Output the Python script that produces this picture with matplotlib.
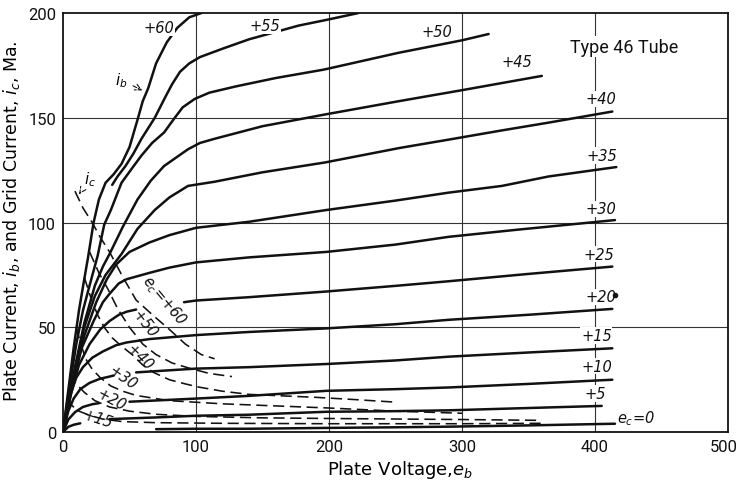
import matplotlib.pyplot as plt
from matplotlib.transforms import ScaledTranslation

# ---- plate current curves i_b (volts, mA) ----
ib60_v = [0, 4, 8, 12, 16, 19, 23, 27, 32, 38, 44, 50, 56, 60, 64, 70, 78, 86, 95, 104]
ib60_i = [0, 20, 40, 58, 73, 84, 100, 111, 119, 123, 128, 136, 149, 158, 164, 176, 186, 193, 198, 200]

ib55_v = [37, 41, 47, 53, 59, 64, 69, 73, 77, 82, 88, 95, 103, 120, 140, 160, 177, 200, 222]
ib55_i = [118, 122, 127, 133, 140, 145, 150, 155, 160, 166, 172, 176, 179, 183, 187.5, 191, 194, 197, 200]

ib50_v = [0, 5, 10, 15, 20, 26, 31, 36, 44, 52, 59, 67, 76, 84, 90, 99, 110, 130, 160, 196, 252, 300, 320]
ib50_i = [0, 22, 42, 58, 70, 84, 99, 106, 119, 126, 132, 138, 143, 150, 155, 159, 162, 165, 169, 173, 181, 187, 190]

ib45_v = [0, 8, 16, 24, 30, 35, 45, 56, 66, 76, 94, 103, 114, 150, 197, 253, 300, 360]
ib45_i = [0, 28, 52, 70, 79, 85, 98, 111, 120, 127, 135, 138, 140, 146, 151.6, 158, 163.2, 170]

ib40_v = [0, 8, 16, 24, 32, 44, 56, 69, 80, 94, 114, 150, 197, 253, 290, 330, 365, 413]
ib40_i = [0, 27, 50, 65, 75, 85, 97, 106, 112, 117.5, 119.5, 124, 128.7, 135.6, 139.6, 144, 147.7, 153]

ib35_v = [0, 8, 16, 25, 33, 40, 50, 65, 80, 100, 140, 198, 250, 290, 330, 365, 416]
ib35_i = [0, 26, 46, 62, 73, 80, 86, 90.5, 94, 97.5, 100.4, 106, 110.5, 114.3, 117.5, 122, 126.5]

ib30_v = [0, 7, 14, 23, 30, 35, 42, 48, 65, 80, 100, 140, 198, 250, 290, 340, 415]
ib30_i = [0, 22, 40, 53, 62, 66, 71, 73, 76, 78.5, 81, 83.4, 86, 89.5, 93.2, 96.5, 101.2]

ib25a_v = [0, 6, 12, 20, 28, 35, 42, 48, 55]
ib25a_i = [0, 18, 32, 42, 49, 53, 56, 57.5, 58.5]
ib25b_v = [91, 100, 140, 198, 250, 290, 350, 413]
ib25b_i = [62, 62.8, 64.4, 67.1, 69.8, 72, 75.5, 79]

ib20_v = [0, 5, 10, 15, 22, 30, 40, 48, 65, 100, 140, 198, 250, 290, 350, 413]
ib20_i = [0, 17, 26, 31, 35.5, 38.5, 41.5, 42.8, 44.4, 46.3, 47.8, 49.5, 51.5, 53.6, 56, 58.8]

ib15a_v = [0, 4, 8, 13, 20, 28, 35, 38]
ib15a_i = [0, 10, 16, 20.5, 23.5, 25.5, 26.5, 27]
ib15b_v = [55, 80, 100, 140, 198, 250, 290, 350, 413]
ib15b_i = [28.5, 29.5, 30.3, 31, 32.5, 34.2, 36, 38, 40]

ib10a_v = [0, 4, 9, 15, 22, 27]
ib10a_i = [0, 6, 9.5, 12, 13.3, 13.8]
ib10b_v = [50, 100, 140, 198, 250, 290, 350, 413]
ib10b_i = [14.5, 16, 17.3, 19.7, 20.5, 21.3, 23, 25]

ib5a_v = [0, 4, 8, 13]
ib5a_i = [0, 2.5, 3.5, 4.2]
ib5b_v = [35, 70, 100, 140, 198, 250, 290, 350, 405]
ib5b_i = [6.2, 7, 7.8, 8.3, 9.7, 10, 10.4, 11.5, 12.5]

ib0_v = [70, 100, 140, 198, 250, 290, 350, 415]
ib0_i = [1.4, 1.6, 1.6, 2, 2.3, 2.6, 3.2, 4]

# ---- grid current curves i_c (dashed) ----
ic60_v = [9, 15, 22, 28, 35, 45, 55, 69, 80, 92, 104, 114]
ic60_i = [115, 107, 100, 93, 86, 74, 63, 55, 49, 42, 37, 35]

ic50_v = [20, 27, 34, 41, 50, 60, 70, 82, 95, 110, 127]
ic50_i = [86, 76, 68, 59, 50, 42, 37, 33, 30.5, 28, 26.5]

ic40_v = [16, 21, 26, 31, 37, 44, 52, 60, 68, 80, 92, 102, 120, 140, 165, 190, 220, 250]
ic40_i = [74, 64, 56, 50, 45, 41, 37, 32, 28.5, 25, 23, 21.5, 19.5, 18, 17.3, 16.6, 15.5, 14.3]

ic30_v = [10, 13, 17, 22, 28, 36, 45, 55, 80, 120, 160, 200, 250, 300]
ic30_i = [50, 43, 35, 30, 26, 22, 19.5, 17.5, 15, 13.5, 12.5, 11.5, 10, 9]

ic20_v = [5, 10, 16, 24, 35, 50, 70, 100, 150, 200, 300, 360]
ic20_i = [28, 23, 19, 15, 12, 10, 8.5, 7.5, 6.8, 6.5, 6, 5.6]

ic15_v = [3, 7, 12, 20, 30, 45, 70, 120, 200, 300, 360]
ic15_i = [16, 12.5, 10, 8, 6.2, 5, 4.5, 4.2, 4, 4, 4.2]

# curve labels (text, x, y)
ib_labels = [("+60", 72, 193), ("+55", 152, 194), ("+50", 281, 191), ("+45", 341, 177),
             ("+40", 404, 159), ("+35", 405, 132), ("+30", 404, 106.5), ("+25", 403, 85),
             ("+20", 404, 64.5), ("+15", 401, 46), ("+10", 401, 31.5), ("+5", 400, 18.5)]
ic_labels = [(r"$e_c$=+60", 76, 63, -50), ("+50", 61, 52, -52), ("+40", 57.5, 36, -45),
             ("+30", 45, 26, -35), ("+20", 36.5, 15.5, -28), ("+15", 26, 6.5, -18)]

xticks = [0, 100, 200, 300, 400, 500]
yticks = [0, 50, 100, 150, 200]

plt.rcParams['font.family'] = ['DejaVu Sans']
fig = plt.figure(figsize=(7.41, 4.85), dpi=100)
ax = fig.add_axes([0.085, 0.107, 0.8975, 0.864])

ink = '#111111'
solid = dict(color=ink, lw=1.8, solid_capstyle='round', zorder=3)
dash = dict(color=ink, lw=1.15, dashes=(7, 3.5), zorder=3)

for v, i in [(ib60_v, ib60_i), (ib55_v, ib55_i), (ib50_v, ib50_i), (ib45_v, ib45_i),
             (ib40_v, ib40_i), (ib35_v, ib35_i), (ib30_v, ib30_i), (ib25a_v, ib25a_i),
             (ib25b_v, ib25b_i), (ib20_v, ib20_i), (ib15a_v, ib15a_i), (ib15b_v, ib15b_i),
             (ib10a_v, ib10a_i), (ib10b_v, ib10b_i), (ib5a_v, ib5a_i), (ib5b_v, ib5b_i),
             (ib0_v, ib0_i)]:
    ax.plot(v, i, **solid)

for v, i in [(ic60_v, ic60_i), (ic50_v, ic50_i), (ic40_v, ic40_i),
             (ic30_v, ic30_i), (ic20_v, ic20_i), (ic15_v, ic15_i)]:
    ax.plot(v, i, **dash)

# grid
for x in [100, 200, 300, 400]:
    ax.axvline(x, color='#333333', lw=0.8, zorder=1)
for y in [50, 100, 150]:
    ax.axhline(y, color='#333333', lw=0.8, zorder=1)

lab = dict(fontsize=10.5, style='italic', ha='center', va='center', color=ink,
           bbox=dict(facecolor='white', edgecolor='none', pad=0.5), zorder=4)
for t, x, y in ib_labels:
    ax.text(x, y, t, **lab)
ax.text(431, 7, r"$e_c$=0", **lab)
for t, x, y, r in ic_labels:
    ax.text(x, y, t, fontsize=10.5, style='italic', ha='center', va='center', rotation=r,
            color=ink, zorder=4)

ax.plot([415], [65.5], 'o', color=ink, ms=3, zorder=5)

ax.text(422, 184, "Type 46 Tube", fontsize=13, ha='center', va='center', color=ink,
        family=['Roboto', 'DejaVu Sans'],
        bbox=dict(facecolor='white', edgecolor='none', pad=1), zorder=4)

ax.annotate(r"$i_b$", xy=(61.5, 162.5), xytext=(44, 168), fontsize=11, ha='center', va='center',
            arrowprops=dict(arrowstyle='->', color=ink, lw=0.8, linestyle='--'), zorder=4)
ax.annotate(r"$i_c$", xy=(11, 112.5), xytext=(20, 121), fontsize=11, ha='center', va='center',
            arrowprops=dict(arrowstyle='->', color=ink, lw=0.8, linestyle='--'), zorder=4)

ax.set_xlim(0, 500)
ax.set_ylim(0, 200)
ax.set_xticks(xticks)
ax.set_yticks(yticks)
ax.tick_params(length=0, labelsize=12, pad=5, colors=ink)
for t in ax.get_xticklabels() + ax.get_yticklabels():
    t.set_family(['Roboto', 'DejaVu Sans'])
# keep the last x label inside the figure
last = ax.get_xticklabels()[-1]
last.set_transform(last.get_transform() + ScaledTranslation(-3 / 72, 0, fig.dpi_scale_trans))
for s in ax.spines.values():
    s.set_linewidth(1.3)
    s.set_color(ink)

ax.set_xlabel(r"Plate Voltage,$e_b$", fontsize=13)
ax.set_ylabel(r"Plate Current, $i_b$, and Grid Current, $i_c$, Ma.", fontsize=12.5)
ax.xaxis.set_label_coords(0.507, -0.062)
ax.yaxis.set_label_coords(-0.062, 0.505)

fig.savefig("out.png", dpi=100)
